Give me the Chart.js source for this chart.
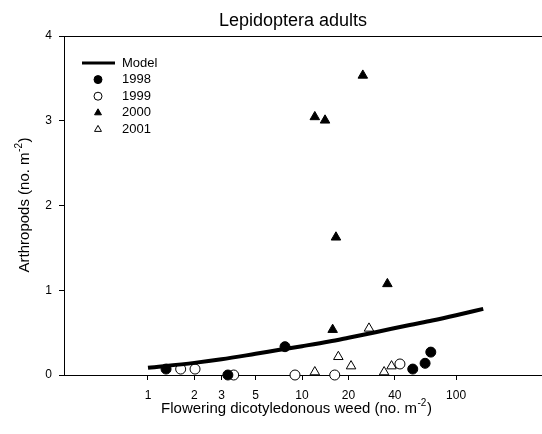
<!DOCTYPE html>
<html>
<head>
<meta charset="utf-8">
<script src="https://cdn.jsdelivr.net/npm/chart.js@4.4.1/dist/chart.umd.min.js"></script>
<style>
  html, body { margin: 0; padding: 0; background: #fff; overflow: hidden; }
  canvas { display: block; }
</style>
</head>
<body>
<canvas id="chart" width="542" height="434"></canvas>
<script>
const FONT = '"Liberation Sans", Arial, sans-serif'

// model curve
const modelX = [1, 2, 3, 5, 7, 10, 15, 20, 30, 50, 70, 100, 150]
const modelY = [0.085, 0.143, 0.185, 0.25, 0.294, 0.34, 0.395, 0.44, 0.505, 0.59, 0.643, 0.705, 0.78]

// observations per year
const x1998 = [1.31, 3.3, 7.75, 52.3, 62.9, 68.5]
const y1998 = [0.07, 0, 0.334, 0.07, 0.138, 0.27]
const x1999 = [1.63, 2.02, 3.6, 9.0, 16.3, 43.2]
const y1999 = [0.07, 0.07, 0, 0, 0, 0.13]
const x2000 = [15.8, 24.8, 12.1, 14.1, 16.6, 35.8]
const y2000 = [0.535, 3.535, 3.045, 3.005, 1.625, 1.075]
const x2001 = [12.1, 17.2, 20.8, 27.2, 34.1, 38.1]
const y2001 = [0.035, 0.215, 0.105, 0.55, 0.035, 0.105]

const xTicks = [1, 2, 3, 5, 10, 20, 40, 100]
const yTicks = [0, 1, 2, 3, 4]
const legendLabels = ['Model', '1998', '1999', '2000', '2001']

const pts = (xs, ys) => xs.map((x, i) => ({ x: x, y: ys[i] }))

const marker = (style, filled, r) => ({
  type: 'scatter',
  pointStyle: style,
  pointRadius: r,
  pointHoverRadius: r,
  pointBackgroundColor: filled ? '#000' : '#fff',
  pointBorderColor: '#000',
  pointBorderWidth: 1,
  clip: false
})

function supText(ctx, x, y, pre, sup, post, size) {
  const big = size + 'px ' + FONT
  const small = Math.round(size * 0.65) + 'px ' + FONT
  ctx.font = big
  const w1 = ctx.measureText(pre).width
  const w3 = ctx.measureText(post).width
  ctx.font = small
  const w2 = ctx.measureText(sup).width
  const sx = x - (w1 + w2 + w3) / 2
  ctx.textAlign = 'left'
  ctx.textBaseline = 'middle'
  ctx.font = big
  ctx.fillText(pre, sx, y)
  ctx.font = small
  ctx.fillText(sup, sx + w1 + 0.5, y - size * 0.38)
  ctx.font = big
  ctx.fillText(post, sx + w1 + w2 + 1, y)
}

const decor = {
  id: 'decor',
  afterDraw(chart) {
    const ctx = chart.ctx
    const area = chart.chartArea
    ctx.save()
    ctx.fillStyle = '#000'
    ctx.strokeStyle = '#000'

    // top frame line
    ctx.lineWidth = 1
    ctx.beginPath()
    ctx.moveTo(area.left, area.top + 0.5)
    ctx.lineTo(chart.width, area.top + 0.5)
    ctx.stroke()

    // title
    ctx.font = '18px ' + FONT
    ctx.textAlign = 'center'
    ctx.textBaseline = 'middle'
    ctx.fillText('Lepidoptera adults', 293, 21)

    // axis titles
    supText(ctx, 296, 409, 'Flowering dicotyledonous weed (no. m', '-2', ')', 15)
    ctx.save()
    ctx.translate(25, (area.top + area.bottom) / 2)
    ctx.rotate(-Math.PI / 2)
    supText(ctx, 0, 0, 'Arthropods (no. m', '-2', ')', 15)
    ctx.restore()

    // legend
    const rowY = 63
    const rowH = 16.6
    ctx.lineWidth = 3
    ctx.beginPath()
    ctx.moveTo(82, rowY)
    ctx.lineTo(115, rowY)
    ctx.stroke()
    const ds = chart.data.datasets
    for (let i = 1; i < ds.length; i++) {
      const y = rowY + i * rowH
      ctx.fillStyle = ds[i].pointBackgroundColor
      ctx.strokeStyle = '#000'
      ctx.lineWidth = 1
      Chart.helpers.drawPoint(ctx, { pointStyle: ds[i].pointStyle, radius: 4, rotation: 0, borderWidth: 1 }, 98, y)
    }
    ctx.fillStyle = '#000'
    ctx.font = '13px ' + FONT
    ctx.textAlign = 'left'
    ctx.textBaseline = 'middle'
    for (let i = 0; i < legendLabels.length; i++) {
      ctx.fillText(legendLabels[i], 122, rowY + i * rowH)
    }
    ctx.restore()
  }
}

new Chart(document.getElementById('chart'), {
  type: 'scatter',
  data: {
    datasets: [
      {
        type: 'line',
        label: legendLabels[0],
        data: pts(modelX, modelY),
        borderColor: '#000',
        borderWidth: 4,
        pointRadius: 0,
        cubicInterpolationMode: 'monotone',
        fill: false,
        clip: false
      },
      { label: legendLabels[1], data: pts(x1998, y1998), ...marker('circle', true, 5) },
      { label: legendLabels[2], data: pts(x1999, y1999), ...marker('circle', false, 5) },
      { label: legendLabels[3], data: pts(x2000, y2000), ...marker('triangle', true, 5.5) },
      { label: legendLabels[4], data: pts(x2001, y2001), ...marker('triangle', false, 5.5) }
    ]
  },
  options: {
    responsive: false,
    animation: false,
    layout: { autoPadding: false, padding: { top: 36, right: 0, left: 0, bottom: 0 } },
    plugins: {
      legend: { display: false },
      title: { display: false },
      tooltip: { enabled: false }
    },
    scales: {
      x: {
        type: 'logarithmic',
        min: 0.285,
        max: 361,
        afterBuildTicks: scale => { scale.ticks = xTicks.map(v => ({ value: v })) },
        afterFit: scale => {
          scale.height = 59
          scale.paddingLeft = 0
          scale.paddingRight = 0
        },
        border: { display: true, color: '#000', width: 1 },
        grid: { drawOnChartArea: false, drawTicks: true, tickLength: 5, color: '#000' },
        ticks: {
          color: '#000',
          font: { family: FONT, size: 12 },
          padding: 8,
          maxRotation: 0,
          autoSkip: false,
          callback: v => String(v)
        }
      },
      y: {
        min: 0,
        max: 4,
        afterBuildTicks: scale => { scale.ticks = yTicks.map(v => ({ value: v })) },
        afterFit: scale => {
          scale.width = 64
          scale.paddingTop = 0
          scale.paddingBottom = 0
        },
        border: { display: true, color: '#000', width: 1 },
        grid: { drawOnChartArea: false, drawTicks: true, tickLength: 5, color: '#000' },
        ticks: {
          color: '#000',
          font: { family: FONT, size: 12 },
          padding: 7,
          callback: v => String(v)
        }
      }
    }
  },
  plugins: [decor]
})
</script>
</body>
</html>
